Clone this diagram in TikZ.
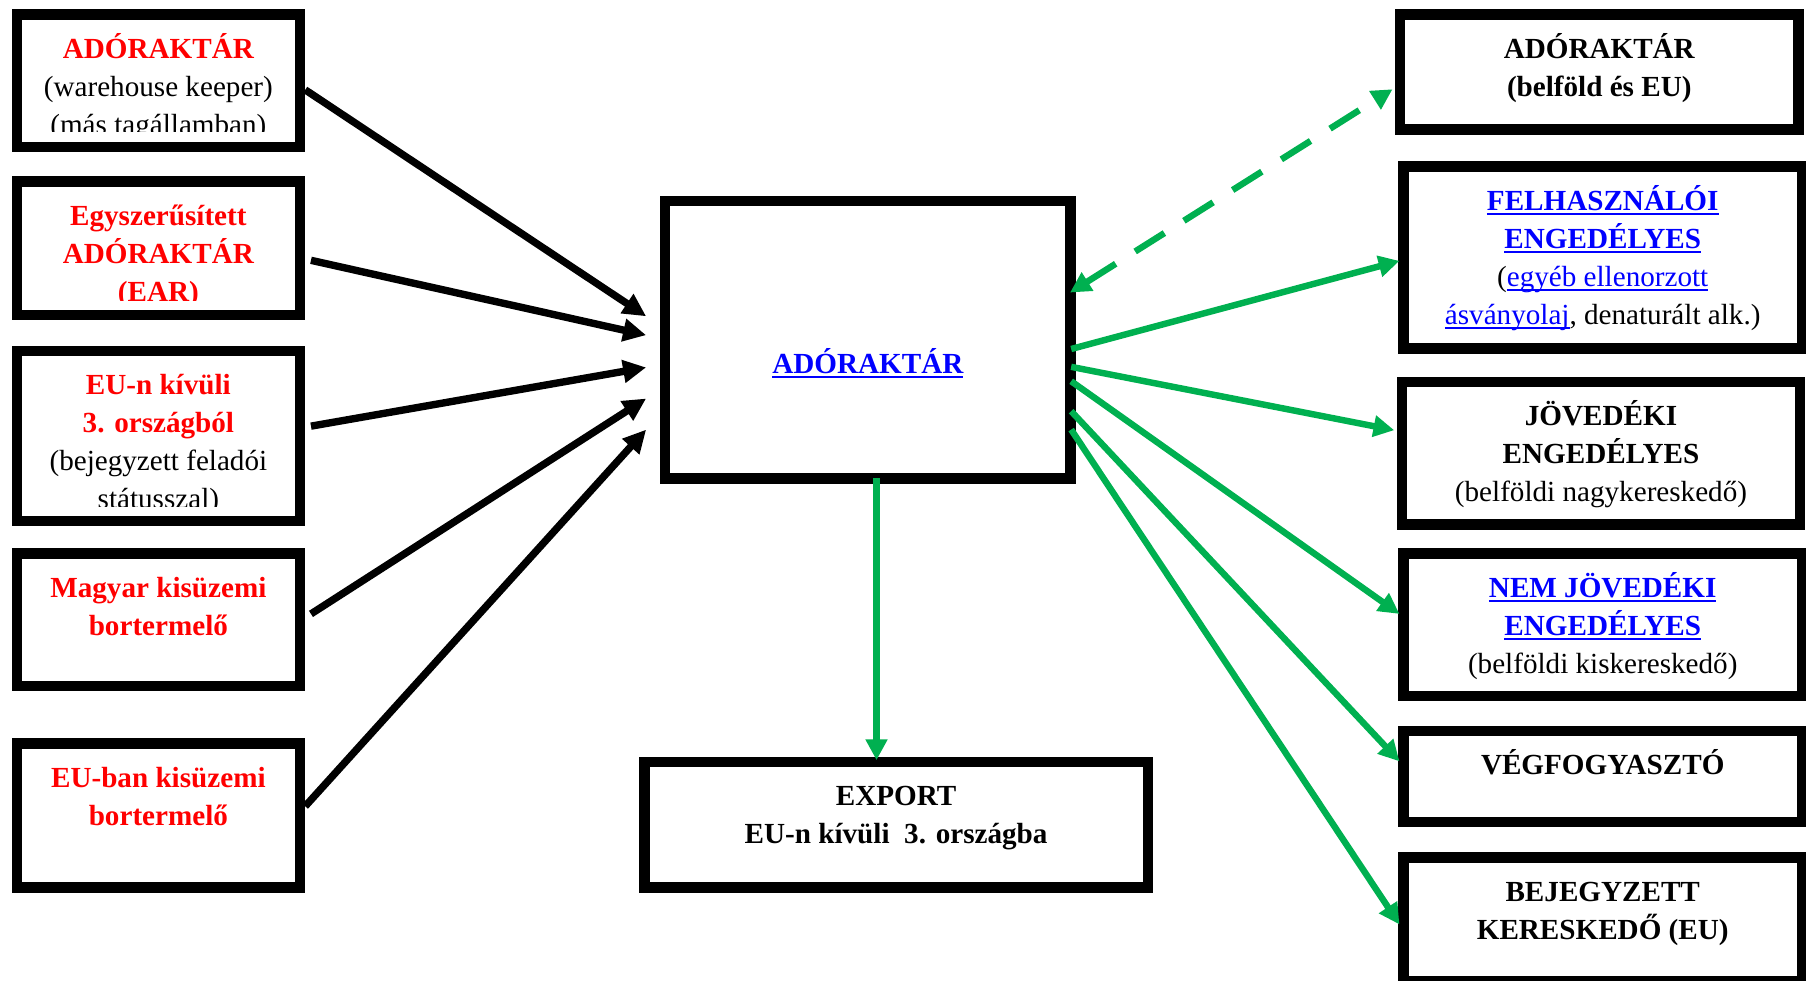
\documentclass[tikz,border=0pt]{standalone}
\usepackage{fontspec}
\setmainfont{Liberation Serif}
\usetikzlibrary{arrows.meta,positioning}

\definecolor{lnkblue}{RGB}{0,0,255}
\definecolor{arrgreen}{RGB}{0,176,80}
\newcommand\fs{\fontsize{12.65pt}{16.5pt}\selectfont}
\newcommand\ts{\rule{0pt}{12.5pt}}
\newcommand\rd[1]{\textcolor{red}{\bfseries #1}}
\newcommand\lnk[1]{\textcolor{lnkblue}{\setbox0\hbox{#1}\rlap{\rule[-2.3pt]{\wd0}{1.15pt}}\box0}}

\tikzset{
  box/.style={draw, line width=4.5pt, inner sep=0pt},
  txt/.style={align=center, inner sep=0pt, font=\fs},
  btxt/.style={txt, font=\fs\bfseries},
  blk/.style={line width=3.2pt, >={Triangle[length=10pt,width=9.5pt]}, ->},
  grn/.style={color=arrgreen, line width=2.8pt, >={Triangle[length=9pt,width=9pt]}, ->}
}

\begin{document}
\begin{tikzpicture}[x=0.5pt,y=-0.5pt]
  \useasboundingbox (0,0) rectangle (1568,851);

  % boxes
  \foreach \n/\y/\h in {l1/70/57.5, l2/215.5/58, l3/378.5/74, l4/538/57.5, l5/708/62.5}
    \node[box, minimum width=123pt, minimum height=\h pt] (\n) at (137.5,\y) {};
  \foreach \n/\x/\y/\h in {r1/1388.5/62.5/50, r2/1391.5/223.5/79, r3/1390/393.5/62,
                           r4/1391.5/542.5/62, r5/1391.5/674/39.5, r6/1391.5/798/53.5}
    \node[box, minimum width=173pt, minimum height=\h pt] (\n) at (\x,\y) {};
  \node[box, minimum width=176pt, minimum height=120.5pt] (c) at (753.5,295) {};
  \node[box, minimum width=218.5pt, minimum height=54.5pt] (e) at (778,716) {};

  % left texts (the first three are cut at the bottom)
  \begin{scope}
    \clip ([yshift=8.7pt]l1.south west) rectangle (l1.north east);
    \node[txt, below=8.5pt of l1.north] (t1) {\ts\rd{ADÓRAKTÁR}\\(warehouse keeper)\\(más tagállamban)};
  \end{scope}
  \begin{scope}
    \clip ([yshift=8.7pt]l2.south west) rectangle (l2.north east);
    \node[txt, below=8.5pt of l2.north] (t2) {\ts\rd{Egyszerűsített}\\\rd{ADÓRAKTÁR}\\\rd{(EAR)}};
  \end{scope}
  \begin{scope}
    \clip ([yshift=8.7pt]l3.south west) rectangle (l3.north east);
    \node[txt, below=8.5pt of l3.north] (t3) {\ts\rd{EU-n kívüli}\\\rd{3. országból}\\(bejegyzett feladói\\státusszal)};
  \end{scope}
  \node[txt, below=8.5pt of l4.north] (t4) {\ts\rd{Magyar kisüzemi}\\\rd{bortermelő}};
  \node[txt, below=8.5pt of l5.north] (t5) {\ts\rd{EU-ban kisüzemi}\\\rd{bortermelő}};

  % middle texts
  \node[txt, below=64.3pt of c.north] (ct) {\ts\lnk{\bfseries ADÓRAKTÁR}};
  \node[btxt, below=8.5pt of e.north] (et) {\ts EXPORT\\EU-n kívüli\ \ 3. országba};

  % right texts
  \node[btxt, below=8.5pt of r1.north] (s1) {\ts ADÓRAKTÁR\\(belföld és EU)};
  \node[txt, below=8.5pt of r2.north] (s2) {\ts\lnk{\bfseries FELHASZNÁLÓI}\\\lnk{\bfseries ENGEDÉLYES}\\(\lnk{egyéb ellenorzott}\\\lnk{ásványolaj}, denaturált alk.)};
  \node[txt, below=8.5pt of r3.north] (s3) {\ts\textbf{JÖVEDÉKI}\\\textbf{ENGEDÉLYES}\\(belföldi nagykereskedő)};
  \node[txt, below=8.5pt of r4.north] (s4) {\ts\lnk{\bfseries NEM JÖVEDÉKI}\\\lnk{\bfseries ENGEDÉLYES}\\(belföldi kiskereskedő)};
  \node[btxt, below=8.5pt of r5.north] (s5) {\ts VÉGFOGYASZTÓ};
  \node[btxt, below=8.5pt of r6.north] (s6) {\ts BEJEGYZETT\\KERESKEDŐ (EU)};

  % arrows in
  \foreach \n/\sx/\sy/\ty in {l1/0/8/-20.4, l2/5/10.5/-4, l3/5/-8.5/24, l4/5/-5/51, l5/0/-8/78}
    \draw[blk] ([shift={(\sx,\sy)}]\n.east) -- ([shift={(-12,\ty)}]c.west);

  % arrows out
  \draw[grn, <->, dash pattern=on 15pt off 10pt] ([shift={(-5,-41)}]c.east) -- ([shift={(-2,15)}]r1.west);
  \foreach \n/\sy/\tx/\ty in {r2/8/1/3, r3/23.5/-2/-20, r4/36/1/-9.5, r5/62/1/-13, r6/78/1/4.6}
    \draw[grn] ([shift={(-4,\sy)}]c.east) -- ([shift={(\tx,\ty)}]\n.west);
  \draw[grn] ([shift={(7.5,-5)}]c.south) -- ([shift={(-17,3)}]e.north);
\end{tikzpicture}
\end{document}
